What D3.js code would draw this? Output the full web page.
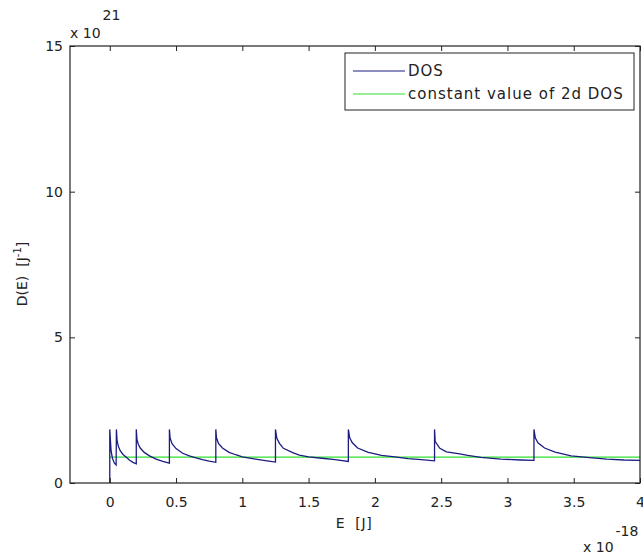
<!DOCTYPE html>
<html>
<head>
<meta charset="utf-8">
<script src="https://cdn.jsdelivr.net/npm/d3@7"></script>
<style>
  body { margin: 0; background: #fff; }
  text { font-family: "DejaVu Sans", sans-serif; fill: #222; }
</style>
</head>
<body>
<svg id="chart"></svg>
<script>
var width = 643;
var height = 557;

// energies in units of 1e-18 J, DOS in units of 1e21 1/J
var dosE = [0, 0, 0.01, 0.02, 0.035, 0.048,
  0.05, 0.055, 0.065, 0.08, 0.1, 0.125, 0.15, 0.175, 0.2,
  0.2, 0.205, 0.215, 0.23, 0.26, 0.3, 0.35, 0.4, 0.45,
  0.45, 0.455, 0.47, 0.5, 0.55, 0.6, 0.65, 0.7, 0.75, 0.8,
  0.8, 0.805, 0.82, 0.85, 0.9, 0.95, 1.0, 1.1, 1.2, 1.25,
  1.25, 1.26, 1.28, 1.31, 1.38, 1.43, 1.5, 1.6, 1.7, 1.8,
  1.8, 1.81, 1.83, 1.87, 1.95, 2.05, 2.15, 2.25, 2.35, 2.45,
  2.45, 2.455, 2.49, 2.54, 2.64, 2.7, 2.8, 2.95, 3.1, 3.2,
  3.2, 3.21, 3.23, 3.28, 3.36, 3.48, 3.62, 3.75, 3.88, 4.0];
var dosD = [0, 1.84, 1.1, 0.85, 0.68, 0.62,
  1.84, 1.45, 1.25, 1.1, 0.98, 0.88, 0.78, 0.71, 0.66,
  1.84, 1.5, 1.33, 1.2, 1.05, 0.93, 0.82, 0.74, 0.68,
  1.84, 1.55, 1.35, 1.18, 1.02, 0.93, 0.86, 0.8, 0.75, 0.71,
  1.84, 1.55, 1.36, 1.2, 1.05, 0.97, 0.9, 0.82, 0.75, 0.72,
  1.84, 1.54, 1.36, 1.19, 1.04, 0.96, 0.9, 0.85, 0.8, 0.74,
  1.84, 1.55, 1.38, 1.2, 1.05, 0.95, 0.9, 0.84, 0.8, 0.76,
  1.84, 1.42, 1.19, 1.07, 1.0, 0.95, 0.88, 0.82, 0.79, 0.78,
  1.84, 1.55, 1.38, 1.2, 1.06, 0.93, 0.87, 0.82, 0.79, 0.78];

var constE = [0, 4];
var constD = [0.89, 0.89];

var xTicks = [0, 0.5, 1, 1.5, 2, 2.5, 3, 3.5, 4];
var xTickLabels = ["0", "0.5", "1", "1.5", "2", "2.5", "3", "3.5", "4"];
var yTicks = [0, 5, 10, 15];

// plot box (note: "top" is taken by window.top, so use other names)
var plotL = 70, plotR = 640, plotT = 46, plotB = 483;

var svg = d3.select("#chart")
    .attr("width", width)
    .attr("height", height);

var x = d3.scaleLinear().domain([-0.3, 4]).range([plotL, plotR]);
var y = d3.scaleLinear().domain([0, 15]).range([plotB, plotT]);

// data lines
var line = d3.line()
    .x(function(d) { return x(d[0]); })
    .y(function(d) { return y(d[1]); });

svg.append("path")
   .datum(constE.map(function(e, i) { return [e, constD[i]]; }))
   .attr("d", line)
   .attr("fill", "none")
   .attr("stroke", "#2fe02f")
   .attr("stroke-width", 1.2);

svg.append("path")
   .datum(dosE.map(function(e, i) { return [e, dosD[i]]; }))
   .attr("d", line)
   .attr("fill", "none")
   .attr("stroke", "#1c1c80")
   .attr("stroke-width", 1.3);

// axes (ticks pointing inward, like matlab)
var fmt = function(d, i) { return xTickLabels[i]; };

svg.append("g")
   .attr("transform", "translate(0," + plotB + ")")
   .call(d3.axisBottom(x).tickValues(xTicks).tickFormat(fmt).tickSizeInner(-5).tickSizeOuter(0).tickPadding(14));
svg.append("g")
   .attr("transform", "translate(0," + plotT + ")")
   .call(d3.axisTop(x).tickValues(xTicks).tickFormat("").tickSizeInner(-5).tickSizeOuter(0));
svg.append("g")
   .attr("transform", "translate(" + plotL + ",0)")
   .call(d3.axisLeft(y).tickValues(yTicks).tickFormat(d3.format("d")).tickSizeInner(-5).tickSizeOuter(0).tickPadding(7));
svg.append("g")
   .attr("transform", "translate(" + plotR + ",0)")
   .call(d3.axisRight(y).tickValues(yTicks).tickFormat("").tickSizeInner(-5).tickSizeOuter(0));

svg.selectAll(".domain").remove();
svg.selectAll(".tick line").attr("stroke", "#222");
svg.selectAll(".tick text")
   .style("font-family", "DejaVu Sans, sans-serif")
   .style("font-size", "14px").attr("fill", "#333");

svg.append("rect")
   .attr("x", plotL).attr("y", plotT)
   .attr("width", plotR - plotL).attr("height", plotB - plotT)
   .attr("fill", "none").attr("stroke", "#222").attr("stroke-width", 1.2);

// exponent labels
var yExp = svg.append("text").attr("x", plotL).attr("y", 38).style("font-size", "14px");
yExp.append("tspan").text("x 10");
yExp.append("tspan").attr("dy", -18).attr("dx", 2).text("21");

var xExp = svg.append("text").attr("x", 583).attr("y", 552).style("font-size", "14px");
xExp.append("tspan").text("x 10");
xExp.append("tspan").attr("dy", -16).attr("dx", 2).text("-18");

// axis titles
svg.append("text")
   .attr("x", 354).attr("y", 528)
   .attr("text-anchor", "middle")
   .style("font-size", "14px")
   .style("letter-spacing", "0.6px")
   .style("white-space", "pre")
   .text("E  [J]");

var yl = svg.append("text")
   .attr("transform", "translate(27,274) rotate(-90)")
   .attr("text-anchor", "middle")
   .style("font-size", "14px")
   .style("white-space", "pre");
yl.append("tspan").text("D(E)  [J");
yl.append("tspan").attr("dy", -6).style("font-size", "10px").text("-1");
yl.append("tspan").attr("dy", 6).text("]");

// legend
var legend = svg.append("g");
legend.append("rect")
   .attr("x", 345).attr("y", 53)
   .attr("width", 289).attr("height", 57)
   .attr("fill", "#fff").attr("stroke", "#222").attr("stroke-width", 1);

var legendItems = [
  { label: "DOS", color: "#1c1c80" },
  { label: "constant value of 2d DOS", color: "#2fe02f" }
];
legendItems.forEach(function(item, i) {
  var ly = 71 + i * 23;
  legend.append("line")
     .attr("x1", 353).attr("x2", 405)
     .attr("y1", ly).attr("y2", ly)
     .attr("stroke", item.color).attr("stroke-width", 1.2);
  legend.append("text")
     .attr("x", 408).attr("y", ly + 5)
     .style("font-size", "15px")
     .style("letter-spacing", "1px")
     .text(item.label);
});
</script>
</body>
</html>
